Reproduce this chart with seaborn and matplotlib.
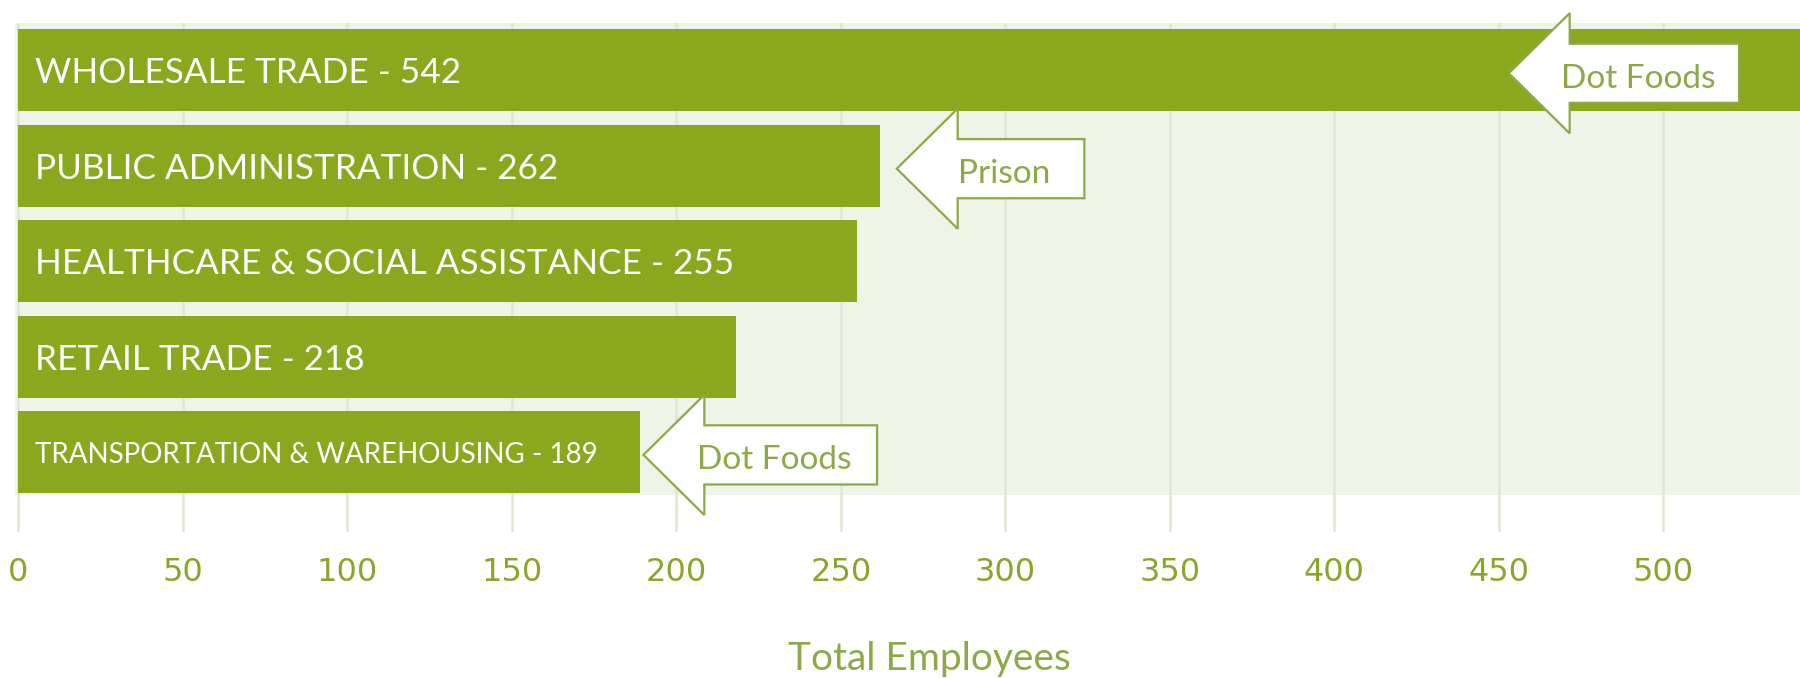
import matplotlib
matplotlib.use("Agg")
import matplotlib.pyplot as plt
import pandas as pd
import seaborn as sns
from matplotlib.patches import Polygon

industries = [
    "WHOLESALE TRADE",
    "PUBLIC ADMINISTRATION",
    "HEALTHCARE & SOCIAL ASSISTANCE",
    "RETAIL TRADE",
    "TRANSPORTATION & WAREHOUSING",
]
employees = [542, 262, 255, 218, 189]
ticks = [0, 50, 100, 150, 200, 250, 300, 350, 400, 450, 500]

callout_text = ["Dot Foods", "Prison", "Dot Foods"]
callout_row = [0, 1, 4]
callout_tip = [453, 267, 190]
callout_tail = [523, 324, 261]

# styling
BAR = "#89a81d"
BG = "#eff4e8"
GRID = "#e0e6d1"
TICK = "#8aa52a"
SOFT = "#8da846"
label_sizes = [25.3, 25.3, 25.3, 25.3, 20]

sns.set_theme(style="white")
plt.rcParams["font.family"] = ["Lato", "DejaVu Sans"]

df = pd.DataFrame({"industry": industries, "employees": employees})

fig = plt.figure(figsize=(18, 6.78), dpi=100)
ax = fig.add_axes([15 / 1800, 1 - 531.7 / 678, 1 - 15 / 1800, (531.7 - 22.7) / 678])

ax.axhspan(-0.5, 4.45, color=BG, zorder=0, lw=0)
sns.barplot(data=df, x="employees", y="industry", orient="h", color=BAR,
            saturation=1, width=0.86, linewidth=0, ax=ax, zorder=2)

ax.set_xlim(-1, 541.5)
ax.set_ylim(4.835, -0.5)
ax.set_xticks(ticks)
ax.set_xticklabels([str(t) for t in ticks], family="DejaVu Sans", fontsize=23, color=TICK)
ax.tick_params(axis="x", length=0, pad=18)
ax.set_yticks([])
ax.set_ylabel("")
ax.xaxis.grid(True, color=GRID, lw=1.8)
ax.set_axisbelow(True)
for s in ax.spines.values():
    s.set_visible(False)

ax.set_xlabel("Total Employees", fontsize=28, color=SOFT)
ax.xaxis.label.set_va("baseline")
ax.xaxis.set_label_coords((929.5 - 15) / 1785, -(670 - 531.7) / 509)

# labels inside the bars
for i, (name, val) in enumerate(zip(industries, employees)):
    ax.text(5, i, f"{name} - {val}", color="white", fontsize=label_sizes[i],
            va="center_baseline", ha="left", zorder=3)

# block-arrow callouts
head_len, head_h, shaft_h, dy = 18.5, 0.63, 0.31, 0.03
for txt, row, tip, tail in zip(callout_text, callout_row, callout_tip, callout_tail):
    y = row + dy
    base = tip + head_len
    pts = [(tip, y), (base, y - head_h), (base, y - shaft_h), (tail, y - shaft_h),
           (tail, y + shaft_h), (base, y + shaft_h), (base, y + head_h)]
    ax.add_patch(Polygon(pts, closed=True, facecolor="white", edgecolor=SOFT,
                         lw=1.6, zorder=4, clip_on=False))
    ax.text((base + tail) / 2 - 5, y + 0.15, txt, color=SOFT, fontsize=24,
            ha="center", va="baseline", zorder=5)

fig.savefig("out.png", dpi=100, facecolor="white")
